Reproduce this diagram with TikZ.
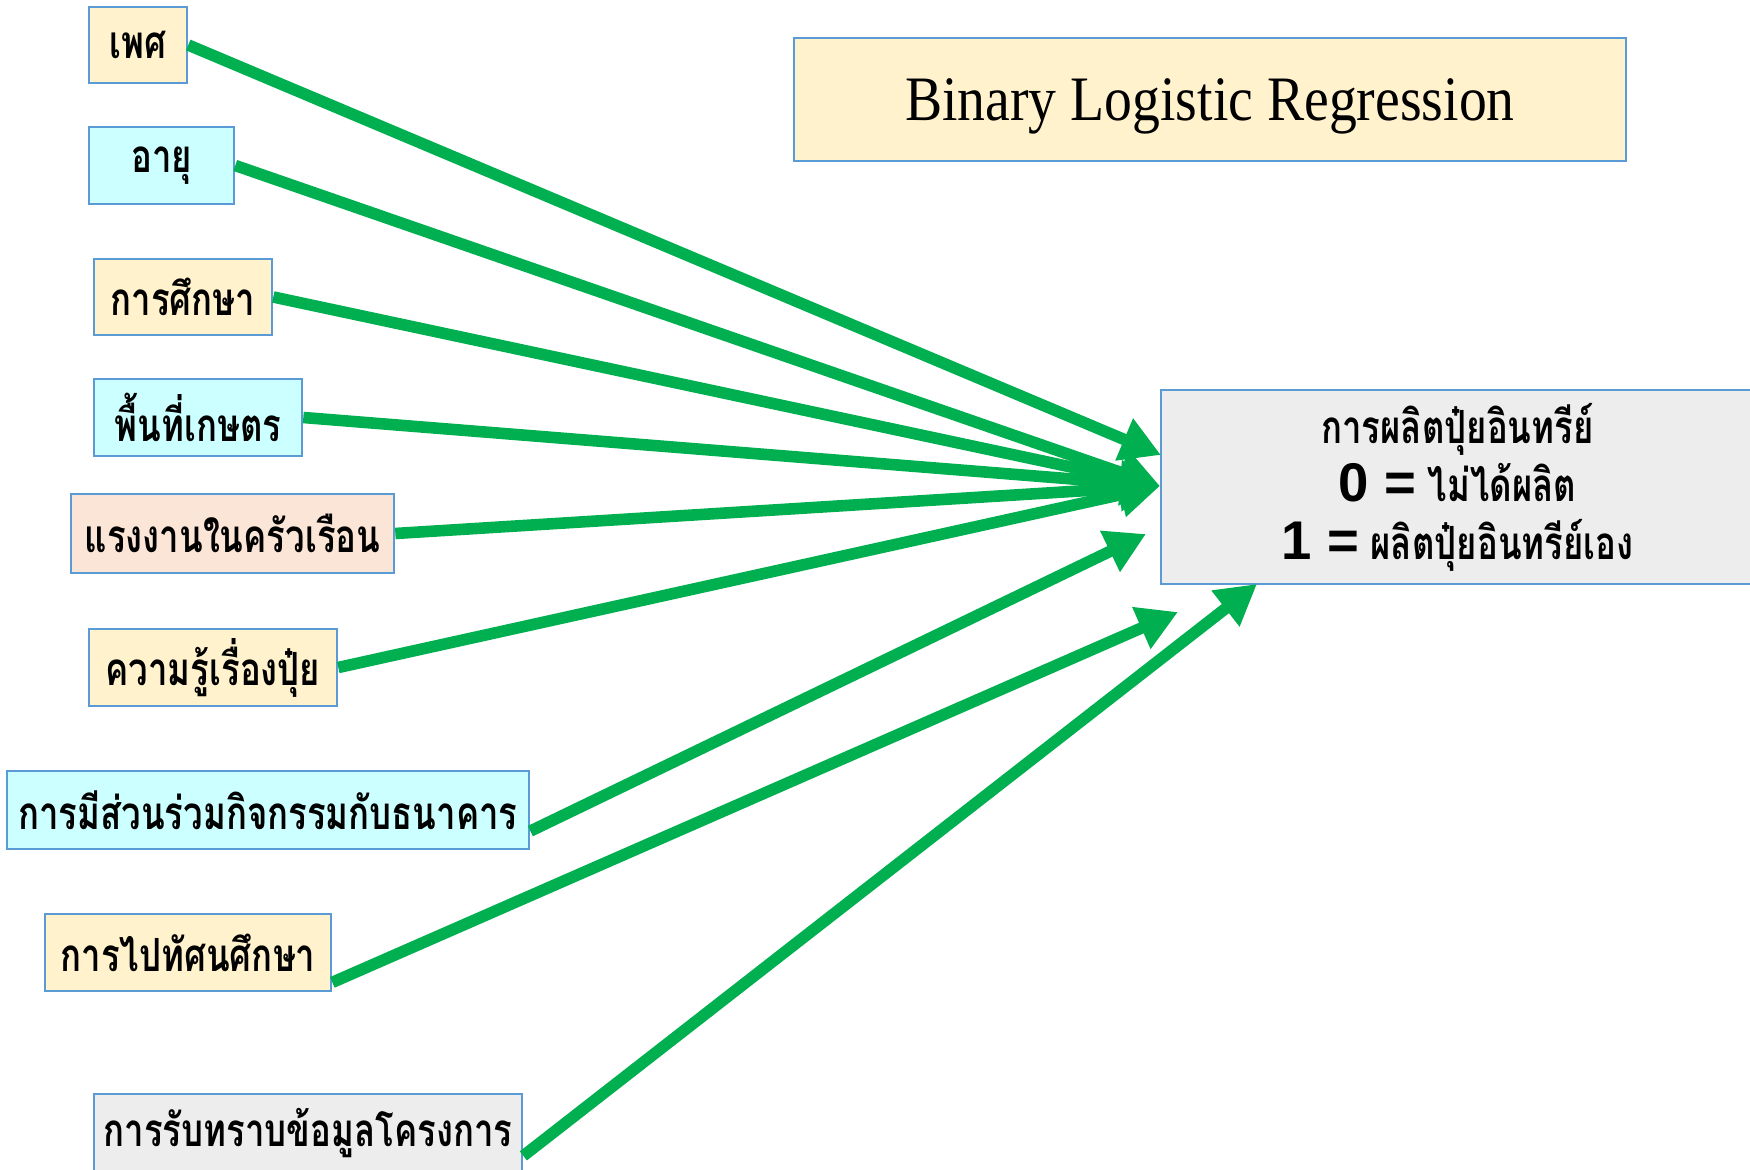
\documentclass[tikz,border=0pt]{standalone}
\usepackage{fontspec}
\setmainfont{Liberation Serif}
\newfontfamily\titlefont[FakeStretch=0.88]{Liberation Serif}
\newfontfamily\thaifont[Script=Thai,FakeStretch=0.76]{Loma}
\newfontfamily\numfont{Liberation Sans}
\usetikzlibrary{arrows.meta}
\definecolor{cream}{HTML}{FFF2CC}
\definecolor{aqua}{HTML}{CCFFFF}
\definecolor{peach}{HTML}{FBE5D6}
\definecolor{lightgray}{HTML}{EDEDED}
\definecolor{boxblue}{HTML}{5B9BD5}
\definecolor{arrowgreen}{HTML}{00B050}
\tikzset{
  factor/.style={draw=boxblue, line width=0.7pt, inner sep=0pt,
    font=\thaifont\bfseries\fontsize{13}{14}\selectfont},
  link/.style={draw=arrowgreen, line width=3.3pt,
    -{Triangle[length=0.40cm,width=0.43cm]}},
}
\begin{document}
\begin{tikzpicture}[x=0.01cm,y=-0.01cm]
\useasboundingbox (0,0) rectangle (1750,1170);
\clip (0,0) rectangle (1750,1170);

% title
\node[draw=boxblue, line width=0.7pt, fill=cream, minimum width=8.32cm, minimum height=1.23cm,
  text depth=0pt, font=\titlefont\fontsize{18}{20}\selectfont] (title) at (1210,99.5) {Binary Logistic Regression};

% outcome
\node[draw=boxblue, line width=0.7pt, fill=lightgray, minimum width=5.93cm, minimum height=1.94cm,
  align=center, font=\thaifont\bfseries\fontsize{13}{16.5}\selectfont] (out) at (1457.5,487)
  {การผลิตปุ๋ยอินทรีย์\\
   {\numfont\bfseries\fontsize{15.5}{16.5}\selectfont 0 =} ไม่ได้ผลิต\\
   {\numfont\bfseries\fontsize{15.5}{16.5}\selectfont 1 =} ผลิตปุ๋ยอินทรีย์เอง};

% factors
\node[factor, fill=cream, minimum width=0.98cm, minimum height=0.76cm] (sex) at (138,45) {เพศ};
\node[factor, fill=aqua, minimum width=1.45cm, minimum height=0.77cm] (age) at (161.5,165.5) {อายุ};
\node[factor, fill=cream, minimum width=1.78cm, minimum height=0.76cm] (edu) at (183,297) {การศึกษา};
\node[factor, fill=aqua, minimum width=2.08cm, minimum height=0.77cm] (area) at (198,417.5) {พื้นที่เกษตร};
\node[factor, fill=peach, minimum width=3.23cm, minimum height=0.79cm] (labour) at (232.5,533.5) {แรงงานในครัวเรือน};
\node[factor, fill=cream, minimum width=2.48cm, minimum height=0.77cm] (know) at (213,667.5) {ความรู้เรื่องปุ๋ย};
\node[factor, fill=aqua, minimum width=5.22cm, minimum height=0.78cm] (bank) at (268,810) {การมีส่วนร่วมกิจกรรมกับธนาคาร};
\node[factor, fill=cream, minimum width=2.86cm, minimum height=0.77cm] (tour) at (188,952.5) {การไปทัศนศึกษา};
\node[factor, fill=lightgray, minimum width=4.28cm, minimum height=0.78cm] (info) at (308,1133) {การรับทราบข้อมูลโครงการ};

% arrow tips
\coordinate (t1) at (1161,455);
\coordinate (hub) at (1160,486);
\coordinate (t7) at (1146,534);
\coordinate (t8) at (1178,612);
\coordinate (t9) at (1257,584);

% connectors
\draw[link] (sex.east) -- (t1);
\draw[link] (age.east) -- (hub);
\draw[link] (edu.east) -- (hub);
\draw[link] (area.east) -- (hub);
\draw[link] (labour.east) -- (hub);
\draw[link] (know.east) -- (hub);
\draw[link] ([yshift=-6pt]bank.east) -- (t7);
\draw[link] ([yshift=-8.5pt]tour.east) -- (t8);
\draw[link] ([yshift=-6.5pt]info.east) -- (t9);
\end{tikzpicture}
\end{document}
